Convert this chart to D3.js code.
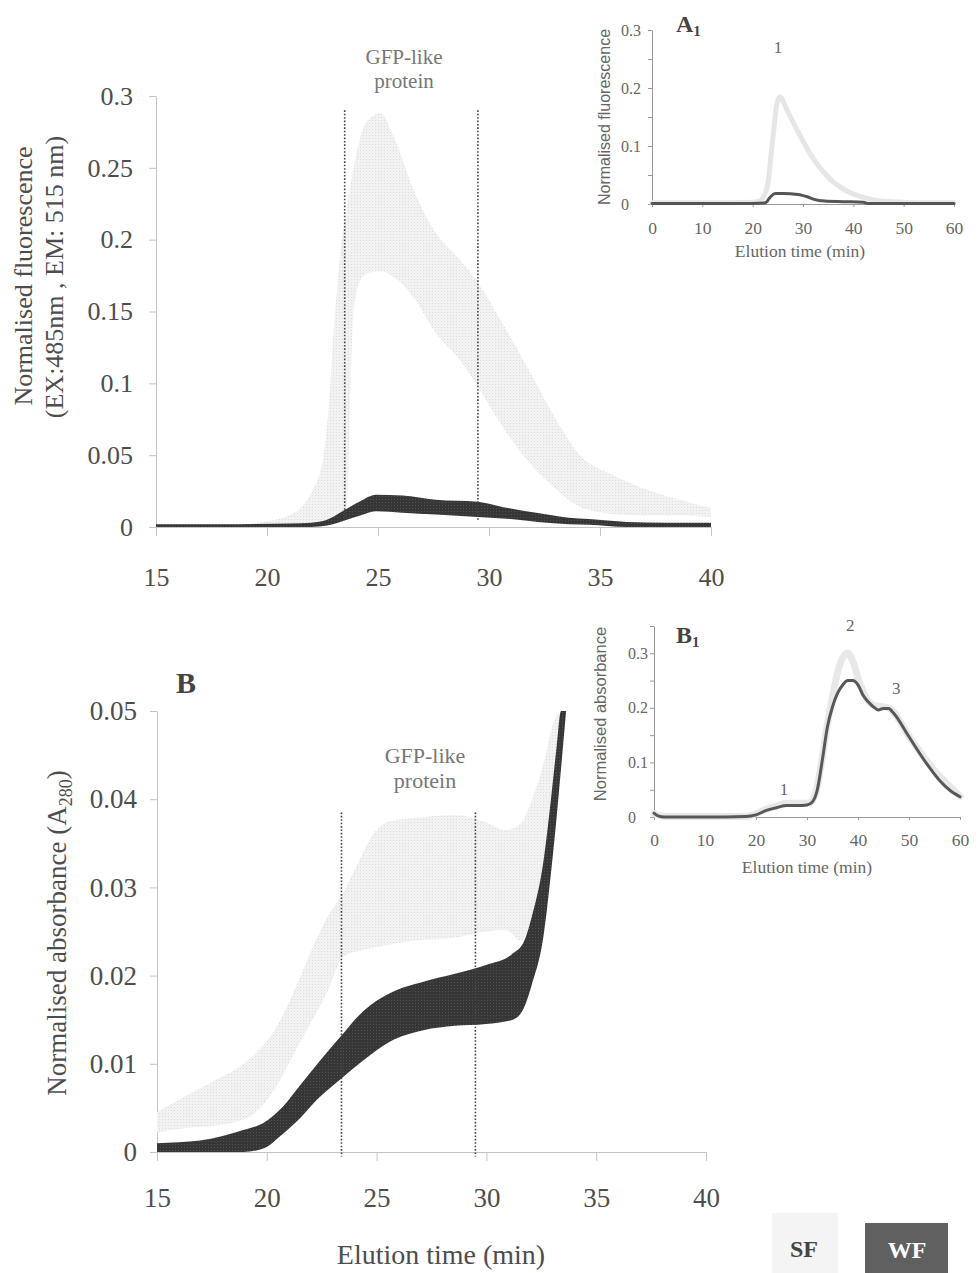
<!DOCTYPE html>
<html>
<head>
<meta charset="utf-8">
<script src="https://cdn.jsdelivr.net/npm/d3@7"></script>
<style>
  body { margin: 0; background: #fff; }
  text { font-family: "Liberation Serif", "Times New Roman", serif; }
  .sans { font-family: "Liberation Sans", Arial, sans-serif; }
</style>
</head>
<body>
<div id="chart"></div>
<script>
// values (min / max envelope of the replicate traces)

// panel A - fluorescence, SF
const aSfTime = [15, 17, 19, 20, 21, 21.5, 22, 22.5, 22.8, 23, 23.3, 23.6, 23.75, 23.9, 24.2, 24.6, 25.1, 25.7, 26.6, 27.6, 28.7, 29.6, 30.6, 31.7, 32.9, 34.1, 35.6, 37.1, 38.6, 40];
const aSfHigh = [0.001, 0.001, 0.002, 0.004, 0.008, 0.013, 0.024, 0.045, 0.088, 0.135, 0.19, 0.222, 0.237, 0.25, 0.271, 0.284, 0.288, 0.272, 0.235, 0.205, 0.186, 0.168, 0.142, 0.112, 0.078, 0.05, 0.036, 0.026, 0.019, 0.013];
const aSfLow  = [0, 0, 0, 0, 0, 0, 0, 0, 0.002, 0.004, 0.007, 0.015, 0.09, 0.15, 0.172, 0.177, 0.178, 0.174, 0.16, 0.135, 0.116, 0.095, 0.07, 0.047, 0.028, 0.014, 0.009, 0.008, 0.008, 0.007];

// panel A - fluorescence, WF
const aWfTime = [15, 18, 21, 22, 22.7, 23.4, 24.2, 24.9, 26.1, 27.6, 29.5, 30.6, 32.2, 33.6, 34.5, 36.2, 38, 40];
const aWfHigh = [0.002, 0.002, 0.0025, 0.003, 0.005, 0.011, 0.018, 0.0225, 0.022, 0.019, 0.0176, 0.014, 0.0097, 0.0065, 0.0055, 0.0035, 0.003, 0.003];
const aWfLow  = [0, 0, 0, 0, 0.001, 0.004, 0.008, 0.011, 0.010, 0.0087, 0.007, 0.006, 0.0035, 0.002, 0.0015, 0, 0, 0];

// panel B - absorbance, SF
const bSfTime = [15, 16.2, 17.7, 19.2, 20.45, 21.2, 21.97, 22.73, 23.5, 24.2, 24.93, 25.6, 26.84, 28.57, 29.98, 30.85, 31.55, 32.07, 32.6, 33.1, 33.5];
const bSfHigh = [0.0045, 0.0062, 0.0082, 0.0105, 0.0142, 0.018, 0.0225, 0.0265, 0.0295, 0.033, 0.0363, 0.0375, 0.0379, 0.0382, 0.0374, 0.0365, 0.0372, 0.0399, 0.044, 0.049, 0.05];
const bSfLow  = [0.0022, 0.0027, 0.003, 0.004, 0.0075, 0.011, 0.0145, 0.018, 0.0222, 0.0228, 0.0232, 0.0235, 0.024, 0.0243, 0.025, 0.0252, 0.024, 0.026, 0.03, 0.038, 0.046];

// panel B - absorbance, WF
const bWfTime = [15, 16.96, 18.93, 19.84, 20.75, 21.5, 22.27, 23.33, 24.4, 25.6, 27.13, 28.57, 29.98, 31.2, 31.7, 32.07, 32.6, 32.94, 33.2, 33.4, 33.63];
const bWfHigh = [0.001, 0.0013, 0.0025, 0.0033, 0.0052, 0.0075, 0.0099, 0.013, 0.016, 0.018, 0.0193, 0.0202, 0.0212, 0.0225, 0.0238, 0.0267, 0.033, 0.04, 0.046, 0.05, 0.05];
const bWfLow  = [0, 0, 0, 0.0004, 0.0021, 0.0038, 0.0059, 0.0082, 0.0104, 0.0125, 0.0138, 0.0143, 0.0145, 0.015, 0.0163, 0.019, 0.0245, 0.0316, 0.038, 0.0435, 0.05];

// inset A1 (full run)
const a1SfTime = [0, 10, 20, 21.5, 22.9, 23.9, 24.9, 25.5, 26.5, 28.8, 32.2, 35.5, 38.8, 42.1, 45.4, 50, 55, 60];
const a1Sf     = [0.002, 0.002, 0.003, 0.006, 0.03, 0.105, 0.176, 0.185, 0.168, 0.128, 0.076, 0.042, 0.022, 0.011, 0.005, 0.003, 0.002, 0.002];
const a1WfTime = [0, 10, 20, 22.5, 23.5, 24.5, 26, 29, 31, 32.2, 34.3, 38, 42, 43, 50, 60];
const a1Wf     = [0.001, 0.001, 0.001, 0.002, 0.012, 0.018, 0.018, 0.0165, 0.012, 0.008, 0.005, 0.004, 0.003, 0.001, 0.001, 0.001];

// inset B1 (full run)
const b1SfTime = [0, 2, 18, 20, 22, 24, 26, 28, 30, 31, 32, 33, 34, 35, 36, 37, 38, 39, 40, 41, 43, 46, 50, 55, 60];
const b1Sf     = [0.006, 0.001, 0.001, 0.006, 0.014, 0.02, 0.025, 0.025, 0.025, 0.03, 0.055, 0.11, 0.17, 0.22, 0.265, 0.292, 0.3, 0.285, 0.255, 0.23, 0.205, 0.2, 0.148, 0.085, 0.038];
const b1WfTime = [0, 0.8, 2, 10, 18, 20, 22, 24, 26, 28, 30, 31, 32, 33, 34, 35, 36, 37, 38, 39, 40, 41, 42, 43, 44, 45, 46, 47, 50, 53, 56, 58, 60];
const b1Wf     = [0.007, 0.002, 0, 0, 0.001, 0.004, 0.012, 0.017, 0.021, 0.021, 0.022, 0.027, 0.049, 0.104, 0.165, 0.202, 0.227, 0.242, 0.25, 0.25, 0.242, 0.223, 0.211, 0.202, 0.196, 0.199, 0.199, 0.19, 0.147, 0.104, 0.067, 0.049, 0.037];

// ticks / windows
const mainTimeTicks = [15, 20, 25, 30, 35, 40];
const aValueTicks = [0, 0.05, 0.1, 0.15, 0.2, 0.25, 0.3];
const bValueTicks = [0, 0.01, 0.02, 0.03, 0.04, 0.05];
const insetTimeTicks = [0, 10, 20, 30, 40, 50, 60];
const a1ValueTicks = [0, 0.05, 0.1, 0.15, 0.2, 0.25, 0.3];
const b1ValueTicks = [0, 0.05, 0.1, 0.15, 0.2, 0.25, 0.3, 0.35];
const insetLabelTicks = [0, 0.1, 0.2, 0.3];
const aWindow = [23.5, 29.5];
const bWindow = [23.4, 29.5];
const b1Peaks = [{ n: '1', t: 25.5, v: 0.04 }, { n: '2', t: 38.5, v: 0.34 }, { n: '3', t: 47.5, v: 0.225 }];

const width = 978, height = 1273;

const svg = d3.select('#chart').append('svg')
  .attr('width', width)
  .attr('height', height);

// textures for the two bands
const defs = svg.append('defs');
const sfPat = defs.append('pattern').attr('id', 'sfDots')
  .attr('width', 3).attr('height', 3).attr('patternUnits', 'userSpaceOnUse');
sfPat.append('rect').attr('width', 3).attr('height', 3).attr('fill', '#f2f2f3');
sfPat.append('rect').attr('width', 1).attr('height', 1).attr('fill', '#dcdcde');
const wfPat = defs.append('pattern').attr('id', 'wfDots')
  .attr('width', 3).attr('height', 3).attr('patternUnits', 'userSpaceOnUse');
wfPat.append('rect').attr('width', 3).attr('height', 3).attr('fill', '#363636');
wfPat.append('rect').attr('x', 1).attr('y', 1).attr('width', 1).attr('height', 1).attr('fill', '#505050');

// scales
const xA = d3.scaleLinear().domain([15, 40]).range([156, 711]);
const yA = d3.scaleLinear().domain([0, 0.3]).range([527, 96]);
const xB = d3.scaleLinear().domain([15, 40]).range([157, 706]);
const yB = d3.scaleLinear().domain([0, 0.05]).range([1152, 711]);
const xA1 = d3.scaleLinear().domain([0, 60]).range([652, 954]);
const yA1 = d3.scaleLinear().domain([0, 0.3]).range([204, 30]);
const xB1 = d3.scaleLinear().domain([0, 60]).range([654, 960]);
const yB1 = d3.scaleLinear().domain([0, 0.35]).range([817, 626]);

const band = (t, lo, hi) => t.map((d, i) => ({ t: d, lo: lo[i], hi: hi[i] }));
const pts = (t, v) => t.map((d, i) => ({ t: d, v: v[i] }));

function drawBand(x, y, data, fill) {
  const area = d3.area()
    .x(d => x(d.t))
    .y0(d => y(d.lo))
    .y1(d => y(d.hi))
    .curve(d3.curveMonotoneX);
  svg.append('path').datum(data).attr('d', area).attr('fill', fill);
}

function drawLine(x, y, data, color, w) {
  const line = d3.line().x(d => x(d.t)).y(d => y(d.v)).curve(d3.curveMonotoneX);
  svg.append('path').datum(data).attr('d', line)
    .attr('fill', 'none').attr('stroke', color).attr('stroke-width', w)
    .attr('stroke-linejoin', 'round').attr('stroke-linecap', 'round');
}

function styleAxis(g, color) {
  g.select('.domain').attr('stroke', color);
  g.selectAll('.tick line').attr('stroke', color);
}

// ---------- panel A ----------
const gAx = svg.append('g').attr('transform', `translate(0,${yA(0)})`)
  .call(d3.axisBottom(xA).tickValues(mainTimeTicks).tickSize(9).tickSizeOuter(0));
styleAxis(gAx, '#c4c4c4');
gAx.selectAll('text').attr('y', 59).attr('dy', null)
  .attr('font-size', 26).attr('fill', '#4d4d4d').attr('font-family', 'Liberation Serif');

const gAy = svg.append('g').attr('transform', `translate(${xA(15)},0)`)
  .call(d3.axisLeft(yA).tickValues(aValueTicks).tickFormat(d => +d.toFixed(2)).tickSize(7).tickPadding(16).tickSizeOuter(0));
styleAxis(gAy, '#c4c4c4');
gAy.selectAll('text').attr('font-size', 26).attr('fill', '#4d4d4d').attr('font-family', 'Liberation Serif');

drawBand(xA, yA, band(aSfTime, aSfLow, aSfHigh), 'url(#sfDots)');
drawBand(xA, yA, band(aWfTime, aWfLow, aWfHigh), 'url(#wfDots)');

aWindow.forEach(t => {
  svg.append('line')
    .attr('x1', xA(t)).attr('x2', xA(t))
    .attr('y1', yA(0.29)).attr('y2', yA(0.005))
    .attr('stroke', '#444').attr('stroke-width', 1.6).attr('stroke-dasharray', '1.6,1.8');
});

svg.append('text').attr('x', 404).attr('y', 64).attr('text-anchor', 'middle')
  .attr('font-size', 21).attr('fill', '#777').text('GFP-like');
svg.append('text').attr('x', 404).attr('y', 88).attr('text-anchor', 'middle')
  .attr('font-size', 21).attr('fill', '#777').text('protein');

svg.append('text').attr('transform', 'translate(32,276) rotate(-90)').attr('text-anchor', 'middle')
  .attr('font-size', 26).attr('fill', '#4d4d4d').text('Normalised fluorescence');
svg.append('text').attr('transform', 'translate(63,277) rotate(-90)').attr('text-anchor', 'middle')
  .attr('font-size', 26).attr('fill', '#4d4d4d').text('(EX:485nm , EM: 515 nm)');

// ---------- panel B ----------
const gBx = svg.append('g').attr('transform', `translate(0,${yB(0)})`)
  .call(d3.axisBottom(xB).tickValues(mainTimeTicks).tickSize(9).tickSizeOuter(0));
styleAxis(gBx, '#c4c4c4');
gBx.selectAll('text').attr('y', 55).attr('dy', null)
  .attr('font-size', 27).attr('fill', '#4d4d4d').attr('font-family', 'Liberation Serif');

const gBy = svg.append('g').attr('transform', `translate(${xB(15)},0)`)
  .call(d3.axisLeft(yB).tickValues(bValueTicks).tickFormat(d => +d.toFixed(2)).tickSize(7).tickPadding(13).tickSizeOuter(0));
styleAxis(gBy, '#c4c4c4');
gBy.selectAll('text').attr('font-size', 27).attr('fill', '#4d4d4d').attr('font-family', 'Liberation Serif');

drawBand(xB, yB, band(bSfTime, bSfLow, bSfHigh), 'url(#sfDots)');
drawBand(xB, yB, band(bWfTime, bWfLow, bWfHigh), 'url(#wfDots)');

bWindow.forEach(t => {
  svg.append('line')
    .attr('x1', xB(t)).attr('x2', xB(t))
    .attr('y1', yB(0.0385)).attr('y2', yB(-0.0005))
    .attr('stroke', '#444').attr('stroke-width', 1.6).attr('stroke-dasharray', '1.6,1.8');
});

svg.append('text').attr('x', 425).attr('y', 763).attr('text-anchor', 'middle')
  .attr('font-size', 22).attr('fill', '#777').text('GFP-like');
svg.append('text').attr('x', 425).attr('y', 788).attr('text-anchor', 'middle')
  .attr('font-size', 22).attr('fill', '#777').text('protein');

svg.append('text').attr('x', 176).attr('y', 693)
  .attr('font-size', 30).attr('font-weight', 'bold').attr('fill', '#444').text('B');

const bTitle = svg.append('text').attr('transform', 'translate(66,933) rotate(-90)').attr('text-anchor', 'middle')
  .attr('font-size', 27).attr('fill', '#4d4d4d');
bTitle.append('tspan').text('Normalised absorbance (A');
bTitle.append('tspan').attr('font-size', 18).attr('dy', 6).text('280');
bTitle.append('tspan').attr('dy', -6).text(')');

svg.append('text').attr('x', 441).attr('y', 1264).attr('text-anchor', 'middle')
  .attr('font-size', 28).attr('fill', '#4d4d4d').text('Elution time (min)');

// ---------- inset A1 ----------
const gA1x = svg.append('g').attr('transform', `translate(0,${yA1(0)})`)
  .call(d3.axisBottom(xA1).tickValues(insetTimeTicks).tickSize(3).tickSizeOuter(0));
styleAxis(gA1x, '#999');
gA1x.selectAll('text').attr('y', 30).attr('dy', null)
  .attr('font-size', 17.5).attr('fill', '#666').attr('font-family', 'Liberation Serif');

const gA1y = svg.append('g').attr('transform', `translate(${xA1(0)},0)`)
  .call(d3.axisLeft(yA1).tickValues(a1ValueTicks).tickFormat('').tickSize(4).tickSizeOuter(0));
styleAxis(gA1y, '#999');
svg.append('g').selectAll('text').data(insetLabelTicks).join('text')
  .attr('x', 621).attr('y', d => yA1(d)).attr('dy', '0.35em')
  .attr('font-size', 16).attr('fill', '#666').text(d => d);

drawLine(xA1, yA1, pts(a1SfTime, a1Sf), '#e6e6e6', 5);
drawLine(xA1, yA1, pts(a1WfTime, a1Wf), '#555', 3);

svg.append('text').attr('x', 778).attr('y', 53).attr('text-anchor', 'middle')
  .attr('font-size', 17).attr('fill', '#666').text('1');

const a1Lab = svg.append('text').attr('x', 676).attr('y', 32)
  .attr('font-size', 24).attr('font-weight', 'bold').attr('fill', '#444');
a1Lab.append('tspan').text('A');
a1Lab.append('tspan').attr('font-size', 15).attr('dy', 4).text('1');

svg.append('text').attr('class', 'sans').attr('transform', 'translate(610,117) rotate(-90)').attr('text-anchor', 'middle')
  .attr('font-size', 16).attr('fill', '#666').text('Normalised fluorescence');
svg.append('text').attr('x', 800).attr('y', 257).attr('text-anchor', 'middle')
  .attr('font-size', 17.5).attr('fill', '#666').text('Elution time (min)');

// ---------- inset B1 ----------
const gB1x = svg.append('g').attr('transform', `translate(0,${yB1(0)})`)
  .call(d3.axisBottom(xB1).tickValues(insetTimeTicks).tickSize(3).tickSizeOuter(0));
styleAxis(gB1x, '#999');
gB1x.selectAll('text').attr('y', 29).attr('dy', null)
  .attr('font-size', 17.5).attr('fill', '#666').attr('font-family', 'Liberation Serif');

const gB1y = svg.append('g').attr('transform', `translate(${xB1(0)},0)`)
  .call(d3.axisLeft(yB1).tickValues(b1ValueTicks).tickFormat('').tickSize(4).tickSizeOuter(0));
styleAxis(gB1y, '#999');
svg.append('g').selectAll('text').data(insetLabelTicks).join('text')
  .attr('x', 628).attr('y', d => yB1(d)).attr('dy', '0.35em')
  .attr('font-size', 16).attr('fill', '#666').text(d => d);

drawLine(xB1, yB1, pts(b1SfTime, b1Sf), '#e8e8e8', 7);
drawLine(xB1, yB1, pts(b1WfTime, b1Wf), '#585858', 3);

svg.append('g').selectAll('text').data(b1Peaks).join('text')
  .attr('x', d => xB1(d.t)).attr('y', d => yB1(d.v))
  .attr('text-anchor', 'middle').attr('font-size', 17).attr('fill', '#666')
  .text(d => d.n);

const b1Lab = svg.append('text').attr('x', 676).attr('y', 643)
  .attr('font-size', 24).attr('font-weight', 'bold').attr('fill', '#444');
b1Lab.append('tspan').text('B');
b1Lab.append('tspan').attr('font-size', 15).attr('dy', 4).text('1');

svg.append('text').attr('class', 'sans').attr('transform', 'translate(606,714) rotate(-90)').attr('text-anchor', 'middle')
  .attr('font-size', 16.5).attr('fill', '#666').text('Normalised absorbance');
svg.append('text').attr('x', 807).attr('y', 873).attr('text-anchor', 'middle')
  .attr('font-size', 17.5).attr('fill', '#666').text('Elution time (min)');

// ---------- legend ----------
svg.append('rect').attr('x', 772).attr('y', 1213).attr('width', 66).attr('height', 60).attr('fill', '#f4f4f4');
svg.append('text').attr('x', 804).attr('y', 1257).attr('text-anchor', 'middle')
  .attr('font-size', 24).attr('font-weight', 'bold').attr('fill', '#444').text('SF');
svg.append('rect').attr('x', 865).attr('y', 1223).attr('width', 83).attr('height', 50).attr('fill', '#606060');
svg.append('text').attr('x', 907).attr('y', 1258).attr('text-anchor', 'middle')
  .attr('font-size', 24).attr('font-weight', 'bold').attr('fill', '#fff').text('WF');
</script>
</body>
</html>
